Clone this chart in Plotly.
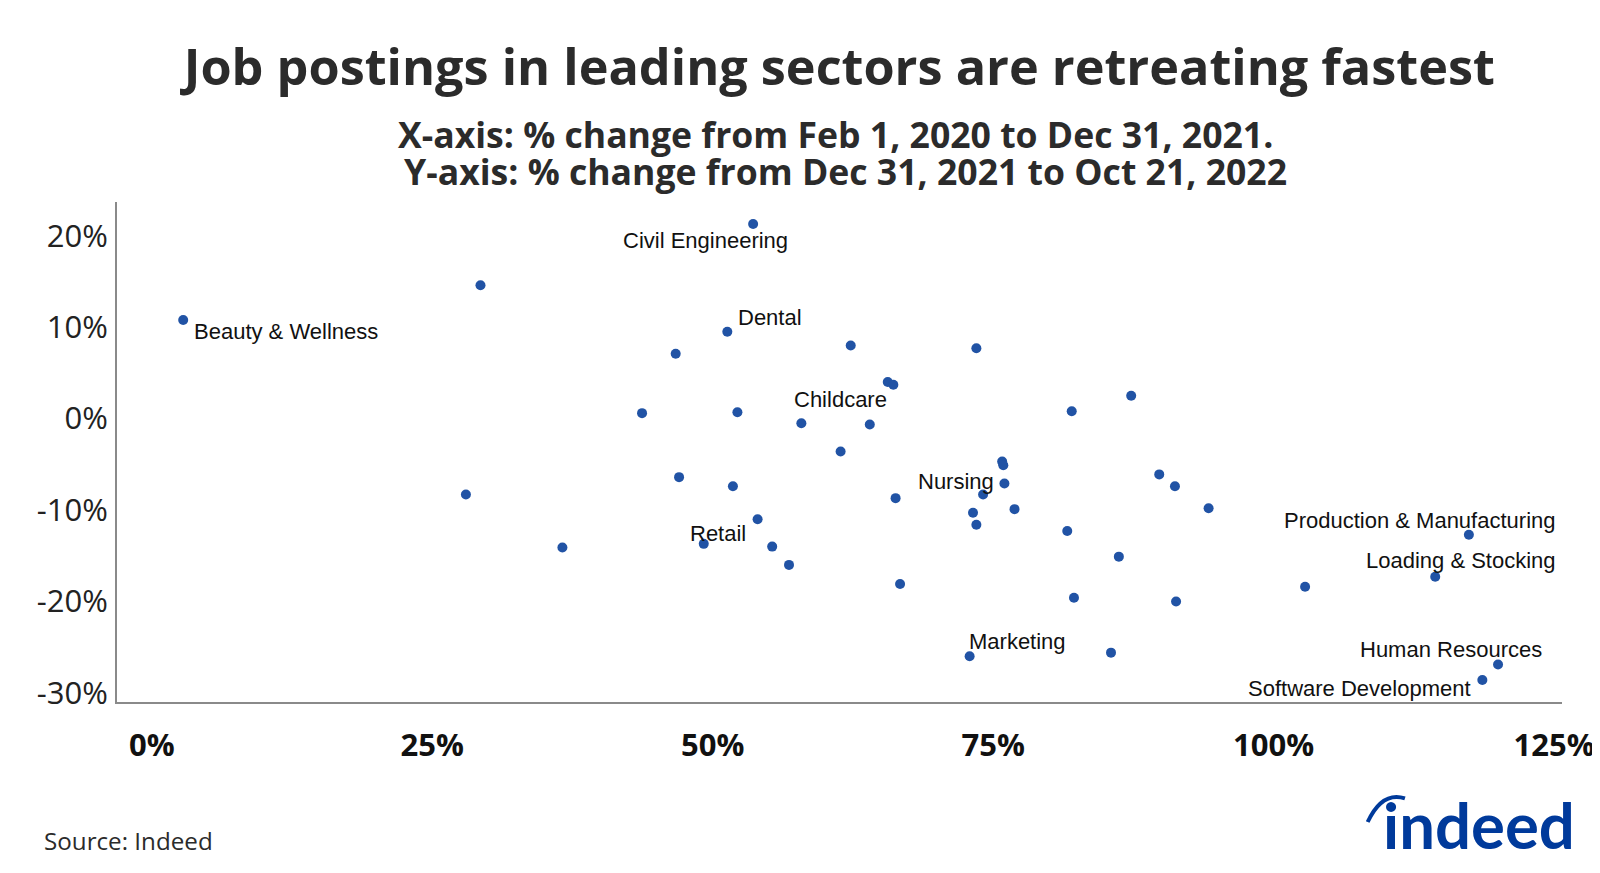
import plotly.graph_objects as go

# % change Feb 1 2020 -> Dec 31 2021 (x) and Dec 31 2021 -> Oct 21 2022 (y)
sectors = [
    "Beauty & Wellness", "", "Civil Engineering", "Dental", "", "", "",
    "", "", "", "", "", "Childcare", "", "", "", "", "", "", "",
    "", "", "", "Nursing", "", "", "", "", "Retail", "", "", "", "",
    "", "", "", "", "", "", "Production & Manufacturing", "Loading & Stocking",
    "", "", "", "Human Resources", "Software Development", "Marketing",
]
change_2020_2021 = [
    2.8, 29.3, 53.6, 51.3, 46.7, 62.3, 73.5,
    65.6, 66.1, 87.3, 43.7, 52.2, 57.9, 64.0, 82.0, 61.4, 47.0, 51.8, 28.0, 66.3,
    75.8, 75.9, 76.0, 74.1, 76.9, 73.2, 73.5, 54.0, 49.2, 55.3, 56.8, 66.7, 36.6,
    89.8, 91.2, 94.2, 81.6, 86.2, 102.8, 117.4, 114.4,
    82.2, 91.3, 85.5, 120.0, 118.6, 72.9,
]
change_2021_2022 = [
    10.8, 14.6, 21.3, 9.5, 7.1, 8.0, 7.7,
    4.0, 3.7, 2.5, 0.6, 0.7, -0.5, -0.65, 0.8, -3.6, -6.4, -7.4, -8.3, -8.7,
    -4.7, -5.1, -7.1, -8.3, -9.9, -10.3, -11.6, -11.0, -13.7, -14.0, -16.0, -18.1, -14.1,
    -6.1, -7.4, -9.8, -12.3, -15.1, -18.4, -12.7, -17.3,
    -19.6, -20.0, -25.6, -26.9, -28.6, -26.0,
]

x_ticks = [0, 25, 50, 75, 100, 125]
x_labels = ["0%", "25%", "50%", "75%", "100%", "125%"]
y_ticks = [-30, -20, -10, 0, 10, 20]
y_labels = ["-30%", "-20%", "-10%", "0%", "10%", "20%"]

# label placement relative to its dot: (xanchor, xshift, yshift) in px
label_offsets = {
    "Beauty & Wellness": ("left", 9, -12),
    "Civil Engineering": ("center", -48, -17),
    "Dental": ("center", 43, 14),
    "Childcare": ("center", 39, 24),
    "Nursing": ("center", -27, 13),
    "Retail": ("center", 14, 10),
    "Marketing": ("center", 48, 15),
    "Production & Manufacturing": ("right", 89, 14),
    "Loading & Stocking": ("right", 123, 16),
    "Human Resources": ("right", 46, 15),
    "Software Development": ("right", -9, -8),
}

DOT = "#2153a5"
TEXT = "#2b2b2b"
LOGO = "#003a9b"

fig = go.Figure()
fig.add_trace(
    go.Scatter(
        x=change_2020_2021,
        y=change_2021_2022,
        mode="markers",
        marker=dict(color=DOT, size=10),
        text=sectors,
        hoverinfo="text+x+y",
        showlegend=False,
    )
)

for name, xv, yv in zip(sectors, change_2020_2021, change_2021_2022):
    if not name:
        continue
    anchor, dx, dy = label_offsets[name]
    fig.add_annotation(
        x=xv, y=yv, text=name, showarrow=False,
        xanchor=anchor, xshift=dx, yshift=dy,
        font=dict(family="Liberation Sans, Arial", size=22, color="#111111"),
    )

subtitle = [
    ("X-axis: % change from Feb 1, 2020 to Dec 31, 2021.", 0.4974, 1.1366),
    ("Y-axis: % change from Dec 31, 2021 to Oct 21, 2022", 0.5041, 1.0612),
]
for line, sx, sy in subtitle:
    fig.add_annotation(
        xref="paper", yref="paper", x=sx, y=sy, text=line,
        showarrow=False, xanchor="center", yanchor="middle", borderpad=0,
        font=dict(family="Open Sans", size=35.6, color=TEXT, weight="bold"),
    )

fig.add_annotation(
    xref="paper", yref="paper", x=-0.052, y=-0.277,
    text="Source: Indeed", showarrow=False, xanchor="left", yanchor="middle",
    font=dict(family="Open Sans", size=24.2, color=TEXT),
)
fig.add_annotation(
    xref="paper", yref="paper", x=0.9425, y=-0.245,
    text="indeed", showarrow=False, xanchor="center", yanchor="middle",
    font=dict(family="Lato", size=63.5, color=LOGO, weight="bold"),
)
fig.add_shape(
    type="path", xref="paper", yref="paper",
    path="M 0.8655,-0.240 Q 0.8755,-0.178 0.8913,-0.1926",
    line=dict(color=LOGO, width=4),
)

# page body has an 8px margin; keep the figure inside the window
fig.update_layout(
    width=1592, height=857,
    paper_bgcolor="white", plot_bgcolor="white",
    margin=dict(l=109, r=38, t=194, b=163),
    title=dict(
        text="Job postings in leading sectors are retreating fastest",
        x=0.5222, xanchor="center", y=0.9312, yanchor="middle",
        font=dict(family="Open Sans", size=50.4, color=TEXT, weight="bold"),
    ),
    xaxis=dict(
        range=[-3.1, 125.7], tickvals=x_ticks, ticktext=x_labels,
        showgrid=False, zeroline=False, showline=True,
        linecolor="#8a8a8a", linewidth=2, ticks="",
        ticklabelstandoff=15, ticklabeloverflow="allow", automargin=False,
        tickfont=dict(family="Open Sans", size=31, color="#111111", weight="bold"),
    ),
    yaxis=dict(
        range=[-31.0, 23.7], tickvals=y_ticks, ticktext=y_labels,
        showgrid=False, zeroline=False, showline=True,
        linecolor="#8a8a8a", linewidth=2, ticks="", automargin=False,
        ticklabelstandoff=1,
        tickfont=dict(family="Open Sans", size=31, color="#222222"),
    ),
)

fig.write_html("out.html")
